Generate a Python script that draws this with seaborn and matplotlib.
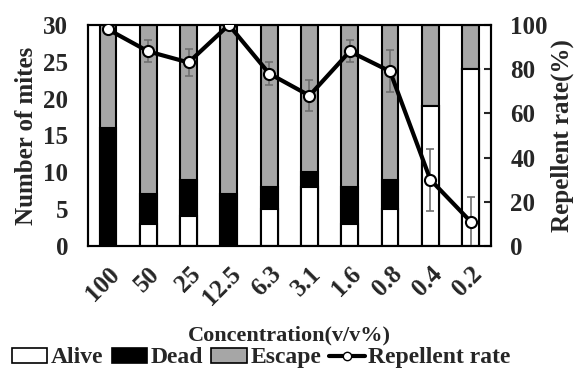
import numpy as np
import pandas as pd
import matplotlib
matplotlib.use('Agg')
import matplotlib.pyplot as plt
from matplotlib.patches import Patch
from matplotlib.lines import Line2D
import seaborn as sns

# Data
concentration = ['100', '50', '25', '12.5', '6.3', '3.1', '1.6', '0.8', '0.4', '0.2']
alive = [0, 3, 4, 0, 5, 8, 3, 5, 19, 24]
dead = [16, 4, 5, 7, 3, 2, 5, 4, 0, 0]
escape = [14, 23, 21, 23, 22, 20, 22, 21, 11, 6]
repellent = [98, 88, 83, 100, 78, 68, 88, 79, 30, 11]
repellent_err = [0, 5, 6, 0, 5, 7, 5, 9.5, 14, 11]

sns.set_style('ticks')
plt.rcParams['font.family'] = ['Liberation Serif', 'DejaVu Serif']
plt.rcParams['font.weight'] = 'bold'
plt.rcParams['axes.labelweight'] = 'bold'

df = pd.DataFrame({
    'conc': concentration,
    'alive': alive,
    'dead': dead,
    'escape': escape,
})
df['alive_dead'] = df['alive'] + df['dead']
df['total'] = df['alive_dead'] + df['escape']

fig = plt.figure(figsize=(5.74, 3.72), dpi=100)
ax = fig.add_axes([0.153, 0.339, 0.702, 0.594])

bar_kw = dict(width=0.42, edgecolor='black', linewidth=1.5, saturation=1, ax=ax)
sns.barplot(data=df, x='conc', y='total', color='#a6a6a6', **bar_kw)
sns.barplot(data=df, x='conc', y='alive_dead', color='black', **bar_kw)
sns.barplot(data=df, x='conc', y='alive', color='white', **bar_kw)

ax.set_ylim(0, 30)
ax.set_xlim(-0.5, 9.5)
ax.set_yticks([0, 5, 10, 15, 20, 25, 30])
ax.set_ylabel('Number of mites', fontsize=18, labelpad=4)
ax.set_xlabel('Concentration(v/v%)', fontsize=16, labelpad=11)
ax.tick_params(axis='y', length=0, labelsize=18, pad=14)
ax.tick_params(axis='x', length=0, labelsize=18, pad=12)
for lab in ax.get_xticklabels():
    lab.set_rotation(45)
    lab.set_ha('right')
    lab.set_rotation_mode('anchor')
for sp in ax.spines.values():
    sp.set_linewidth(1.5)
    sp.set_color('black')

ax2 = ax.twinx()
x = np.arange(len(concentration))
ax2.errorbar(x, repellent, yerr=repellent_err, fmt='none', ecolor='#707070',
             elinewidth=1.2, capsize=3, capthick=1.2, zorder=2)
sns.lineplot(x=x, y=repellent, ax=ax2, color='black', linewidth=3,
             marker='o', markersize=8, markerfacecolor='white',
             markeredgecolor='black', markeredgewidth=1.5, zorder=3)
ax2.set_ylim(0, 100)
ax2.set_yticks([0, 20, 40, 60, 80, 100])
ax2.set_ylabel('Repellent rate(%)', fontsize=18, labelpad=2)
ax2.tick_params(axis='y', direction='in', length=5, width=1.5, labelsize=18, pad=14)
for sp in ax2.spines.values():
    sp.set_linewidth(1.5)
    sp.set_color('black')

handles = [
    Patch(facecolor='white', edgecolor='black', linewidth=1.2, label='Alive'),
    Patch(facecolor='black', edgecolor='black', linewidth=1.2, label='Dead'),
    Patch(facecolor='#a6a6a6', edgecolor='black', linewidth=1.2, label='Escape'),
    Line2D([], [], color='black', linewidth=3, marker='o', markersize=6,
           markerfacecolor='white', markeredgecolor='black', label='Repellent rate'),
]
fig.legend(handles=handles, loc='lower left', bbox_to_anchor=(-0.008, -0.035), ncol=4,
           frameon=False, fontsize=17, handlelength=1.5, handleheight=0.6,
           handletextpad=0.15, columnspacing=0.35, borderpad=0.2)

fig.savefig('out.png', dpi=100)
